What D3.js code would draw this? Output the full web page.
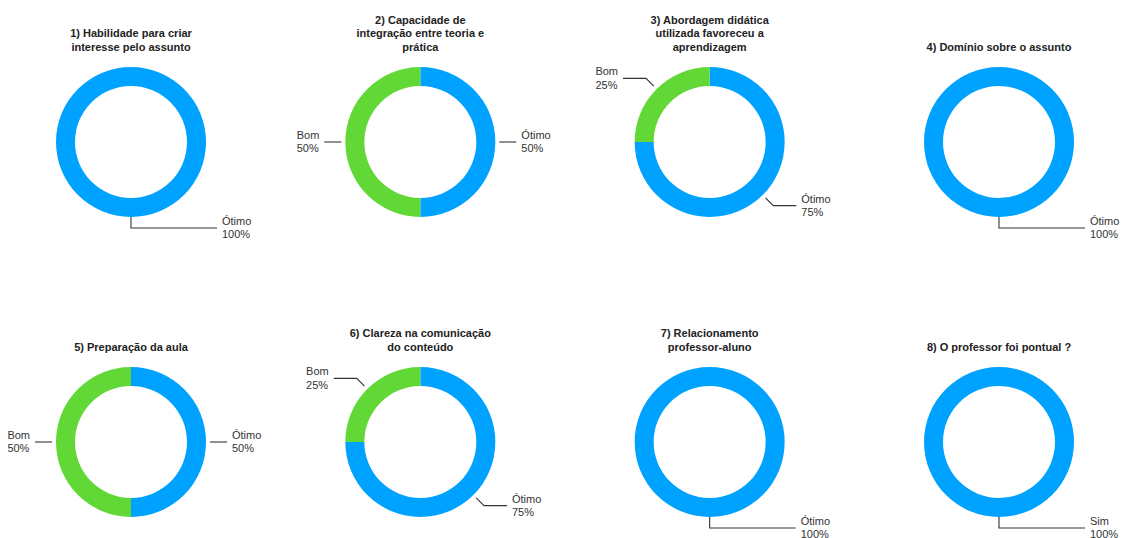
<!DOCTYPE html>
<html>
<head>
<meta charset="utf-8">
<script src="https://cdn.jsdelivr.net/npm/d3@7"></script>
<style>
  html, body { margin: 0; padding: 0; background: #fff; }
  svg { display: block; font-family: "Liberation Sans", Arial, Helvetica, sans-serif; }
</style>
</head>
<body>
<svg id="chart" width="1123" height="538"></svg>
<script>
// ---- data ----
const titles = [
  ["1) Habilidade para criar", "interesse pelo assunto"],
  ["2) Capacidade de", "integração entre teoria e", "prática"],
  ["3) Abordagem didática", "utilizada favoreceu a", "aprendizagem"],
  ["4) Domínio sobre o assunto"],
  ["5) Preparação da aula"],
  ["6) Clareza na comunicação", "do conteúdo"],
  ["7) Relacionamento", "professor-aluno"],
  ["8) O professor foi pontual ?"]
];
const categories = [
  ["Ótimo"],
  ["Ótimo", "Bom"],
  ["Ótimo", "Bom"],
  ["Ótimo"],
  ["Ótimo", "Bom"],
  ["Ótimo", "Bom"],
  ["Ótimo"],
  ["Sim"]
];
const values = [
  [100],
  [50, 50],
  [75, 25],
  [100],
  [50, 50],
  [75, 25],
  [100],
  [100]
];

// ---- layout ----
const svg = d3.select("#chart");
const colX = d3.scaleLinear().domain([0, 3]).range([131, 999]);
const rowY = d3.scaleLinear().domain([0, 1]).range([142, 442]);
const color = d3.scaleOrdinal().domain(["Ótimo", "Sim", "Bom"]).range(["#00a2ff", "#00a2ff", "#61d836"]);
const outerR = 75, innerR = 56;
const arc = d3.arc().innerRadius(innerR).outerRadius(outerR);
const pie = d3.pie().sort(null).value(d => d.v);

values.forEach((vals, i) => {
  const cx = colX(i % 4), cy = rowY(Math.floor(i / 4));
  const g = svg.append("g").attr("transform", `translate(${cx},${cy})`);
  const data = vals.map((v, j) => ({ v, c: categories[i][j] }));
  const arcs = pie(data);

  g.selectAll("path.slice").data(arcs).join("path")
    .attr("class", "slice")
    .attr("d", arc)
    .attr("fill", d => color(d.data.c));

  // title
  const tl = titles[i];
  const t = g.append("text")
    .attr("text-anchor", "middle")
    .attr("font-size", 11)
    .attr("font-weight", "bold")
    .attr("fill", "#222");
  tl.forEach((line, k) => {
    t.append("tspan")
      .attr("x", 0)
      .attr("y", -94 - (tl.length - 1 - k) * 13.5)
      .attr("dominant-baseline", "middle")
      .text(line);
  });

  // labels with leader lines
  const total = d3.sum(vals);
  arcs.forEach(a => {
    const single = arcs.length === 1;
    const mid = single ? Math.PI : (a.startAngle + a.endAngle) / 2;
    const sx = Math.sin(mid), sy = -Math.cos(mid);
    const r0 = single ? outerR : outerR + 4;
    const r1 = single ? outerR + 11 : outerR + 15;
    const p0 = [sx * r0, sy * r0];
    const p1 = [sx * r1, sy * r1];
    const right = single ? true : sx >= 0;
    const horiz = single ? 86 : (Math.abs(sx) > 0.99 ? 6 : 23);
    const p2 = [p1[0] + (right ? horiz : -horiz), p1[1]];
    g.append("path")
      .attr("d", d3.line()([p0, p1, p2]))
      .attr("fill", "none")
      .attr("stroke", "#333")
      .attr("stroke-width", 1.1);

    const pct = Math.round(a.data.v / total * 100) + "%";
    const lbl = g.append("text")
      .attr("font-size", 11)
      .attr("fill", "#333");
    const l1 = lbl.append("tspan").attr("y", p2[1] - 6).attr("dominant-baseline", "middle").text(a.data.c);
    const l2 = lbl.append("tspan").attr("y", p2[1] + 7.5).attr("dominant-baseline", "middle").text(pct);
    let tx;
    if (right) {
      tx = p2[0] + 5;
    } else {
      const w = Math.max(l1.node().getComputedTextLength(), l2.node().getComputedTextLength());
      tx = p2[0] - 5 - w;
    }
    l1.attr("x", tx);
    l2.attr("x", tx);
  });
});
</script>
</body>
</html>
